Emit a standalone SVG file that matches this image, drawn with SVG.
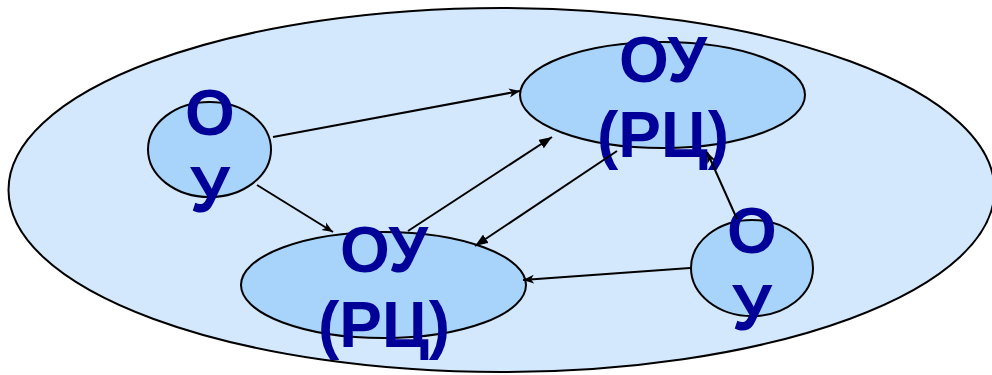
<svg xmlns="http://www.w3.org/2000/svg" width="992" height="375" viewBox="0 0 992 375">
<style>
.outer{fill:#d4e8fd;stroke:#000;stroke-width:2}
.node{fill:#a8d4fb;stroke:#000;stroke-width:2}
.lbl{font-family:"Liberation Sans",Arial,sans-serif;font-weight:bold;font-size:64px;fill:#000099;text-anchor:middle}
.edge{stroke:#000;stroke-width:2;fill:none}
</style>
<defs>
<marker id="open" viewBox="0 0 12 10" refX="11" refY="5" markerWidth="12" markerHeight="10" markerUnits="userSpaceOnUse" orient="auto">
<path d="M0,0.5 L11,5 L0,9.5 L3,5 Z" fill="#000"/>
</marker>
<marker id="solid" viewBox="0 0 14 10" refX="13" refY="5" markerWidth="14" markerHeight="10" markerUnits="userSpaceOnUse" orient="auto">
<path d="M0,0 L13,5 L0,10 Z" fill="#000"/>
</marker>
</defs>
<ellipse class="outer" cx="501.5" cy="190" rx="493" ry="182"/>
<g id="node-ou-left">
<ellipse class="node" cx="209.5" cy="149.5" rx="61.5" ry="47.5"/>
<text class="lbl" x="210" y="135">О</text>
<text class="lbl" x="210" y="212">У</text>
</g>
<g id="node-rc-top">
<ellipse class="node" cx="662.5" cy="95" rx="142.5" ry="53"/>
<text class="lbl" x="663" y="82">ОУ</text>
<text class="lbl" x="663" y="157">(РЦ)</text>
</g>
<g id="node-rc-bottom">
<ellipse class="node" cx="383.5" cy="285" rx="142.5" ry="53"/>
<text class="lbl" x="384" y="272">ОУ</text>
<text class="lbl" x="384" y="347">(РЦ)</text>
</g>
<g id="node-ou-right">
<ellipse class="node" cx="752" cy="268" rx="61" ry="48"/>
<text class="lbl" x="752" y="253">О</text>
<text class="lbl" x="752" y="330">У</text>
</g>
<g id="connectors">
<line class="edge" x1="273" y1="137" x2="520" y2="91" marker-end="url(#open)"/>
<line class="edge" x1="257" y1="185" x2="333" y2="232" marker-end="url(#open)"/>
<line class="edge" x1="408" y1="231" x2="552" y2="137" marker-end="url(#solid)"/>
<line class="edge" x1="617" y1="151" x2="475" y2="246" marker-end="url(#solid)"/>
<line class="edge" x1="737" y1="219" x2="707" y2="152" marker-end="url(#open)"/>
<line class="edge" x1="690" y1="268" x2="523" y2="280" marker-end="url(#open)"/>
</g>
</svg>
